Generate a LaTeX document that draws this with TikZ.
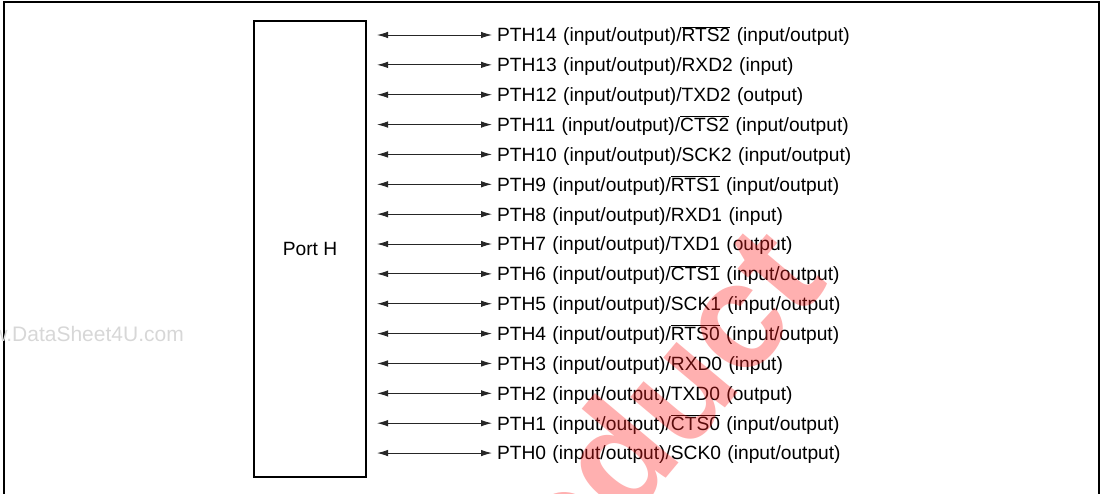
\documentclass[tikz,border=0pt]{standalone}
\usepackage{fontspec}
\setmainfont{Liberation Sans}
\usepackage{tikz}
\usetikzlibrary{arrows.meta,positioning}
\definecolor{wmgray}{RGB}{215,215,215}
\definecolor{wmred}{RGB}{255,30,30}
\newcommand{\ovl}[1]{$\overline{\mbox{#1}}$}

\begin{document}
\begin{tikzpicture}[x=1pt, y=-1pt,
  portbox/.style={draw, line width=2pt, minimum width=112pt, minimum height=456pt,
                  inner sep=0pt, font=\fontsize{19.2}{23}\selectfont},
  pin/.style={text width=380pt, align=left, inner sep=0pt, outer sep=0pt,
              minimum height=29.86pt, text height=17.7pt, text depth=4pt,
              font=\fontsize{19.2}{23}\selectfont},
  arr/.style={{Latex[length=11pt,width=6.5pt]}-{Latex[length=11pt,width=6.5pt]},
              line width=0.9pt, black!85, shorten <=10pt, shorten >=5pt},
  node distance=0pt
]
\useasboundingbox (0,0) rectangle (1102,493);
% outer frame, open at the bottom
\draw[line width=2.5pt] (4,500) -- (4,2) -- (1099,2) -- (1099,500);

\node[portbox] (portH) at (310,249) {Port H};

\node[pin, anchor=west] (t14) at (497,35) {PTH14 (input/output)/\ovl{RTS2} (input/output)};
\node[pin, below=of t14] (t13) {PTH13 (input/output)/RXD2 (input)};
\node[pin, below=of t13] (t12) {PTH12 (input/output)/TXD2 (output)};
\node[pin, below=of t12] (t11) {PTH11 (input/output)/\ovl{CTS2} (input/output)};
\node[pin, below=of t11] (t10) {PTH10 (input/output)/SCK2 (input/output)};
\node[pin, below=of t10] (t9) {PTH9 (input/output)/\ovl{RTS1} (input/output)};
\node[pin, below=of t9] (t8) {PTH8 (input/output)/RXD1 (input)};
\node[pin, below=of t8] (t7) {PTH7 (input/output)/TXD1 (output)};
\node[pin, below=of t7] (t6) {PTH6 (input/output)/\ovl{CTS1} (input/output)};
\node[pin, below=of t6] (t5) {PTH5 (input/output)/SCK1 (input/output)};
\node[pin, below=of t5] (t4) {PTH4 (input/output)/\ovl{RTS0} (input/output)};
\node[pin, below=of t4] (t3) {PTH3 (input/output)/RXD0 (input)};
\node[pin, below=of t3] (t2) {PTH2 (input/output)/TXD0 (output)};
\node[pin, below=of t2] (t1) {PTH1 (input/output)/\ovl{CTS0} (input/output)};
\node[pin, below=of t1] (t0) {PTH0 (input/output)/SCK0 (input/output)};

\draw[arr] (portH.east |- t14.west) -- (t14.west);
\draw[arr] (portH.east |- t13.west) -- (t13.west);
\draw[arr] (portH.east |- t12.west) -- (t12.west);
\draw[arr] (portH.east |- t11.west) -- (t11.west);
\draw[arr] (portH.east |- t10.west) -- (t10.west);
\draw[arr] (portH.east |- t9.west) -- (t9.west);
\draw[arr] (portH.east |- t8.west) -- (t8.west);
\draw[arr] (portH.east |- t7.west) -- (t7.west);
\draw[arr] (portH.east |- t6.west) -- (t6.west);
\draw[arr] (portH.east |- t5.west) -- (t5.west);
\draw[arr] (portH.east |- t4.west) -- (t4.west);
\draw[arr] (portH.east |- t3.west) -- (t3.west);
\draw[arr] (portH.east |- t2.west) -- (t2.west);
\draw[arr] (portH.east |- t1.west) -- (t1.west);
\draw[arr] (portH.east |- t0.west) -- (t0.west);

% watermarks
\node[anchor=base east, text=wmgray, inner sep=0pt, font=\fontsize{21}{25}\selectfont]
  (site) at (184,341) {www.DataSheet4U.com};
\node[anchor=base east, rotate=50, text=wmred, opacity=0.35, inner sep=0pt,
      font=\fontsize{150}{170}\bfseries\selectfont] (stamp) at (830,283) {product};
\end{tikzpicture}
\end{document}
